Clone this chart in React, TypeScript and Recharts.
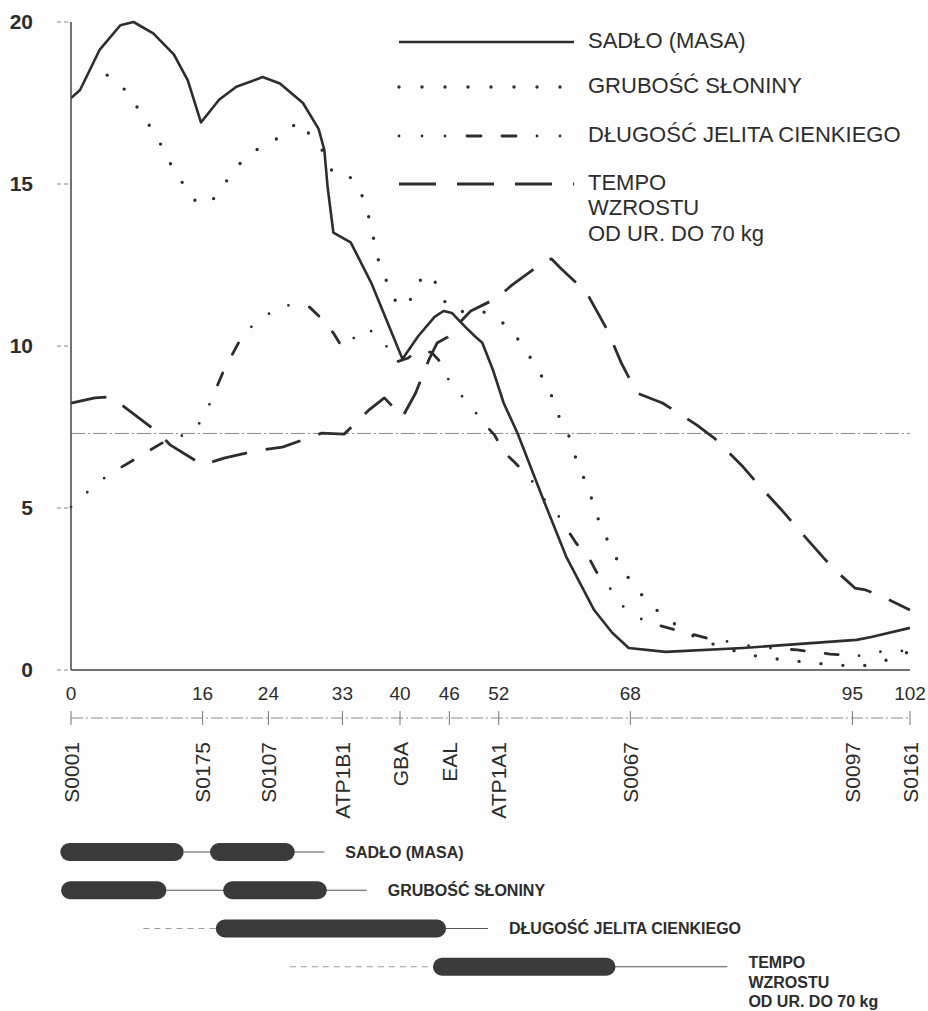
import React from "react";
import {
  LineChart,
  Line,
  XAxis,
  YAxis,
  ReferenceLine,
  Legend,
  BarChart,
  Bar,
  LabelList,
} from "recharts";

const FONT = '"Liberation Sans", Arial, sans-serif';
const INK = "#2d2d2d";

// marker map (cM)
const MARKER_CM = [0, 16, 24, 33, 40, 46, 52, 68, 95, 102];
const MARKER_NAMES = ["S0001", "S0175", "S0107", "ATP1B1", "GBA", "EAL", "ATP1A1", "S0067", "S0097", "S0161"];
const LOD_TICKS = [0, 5, 10, 15, 20];
const THRESHOLD = 7.3;

const TRAIT_NAMES = [
  ["SADŁO (MASA)"],
  ["GRUBOŚĆ SŁONINY"],
  ["DŁUGOŚĆ JELITA CIENKIEGO"],
  ["TEMPO", "WZROSTU", "OD UR. DO 70 kg"],
];

// profiles
const SADLO_CM = [0, 1.1, 3.5, 6.0, 7.6, 10.0, 12.5, 14.2, 15.8, 18.0, 20.1, 23.3, 25.4, 28.2, 30.1, 30.8, 31.2, 31.9, 34.0, 36.5, 40.3, 42.2, 44.2, 45.3, 46.3, 47.9, 49.1, 50.0, 51.3, 52.6, 54.3, 57.3, 60.2, 63.6, 65.8, 67.8, 72.3, 81.7, 95.5, 97.3, 102];
const SADLO_LOD = [17.65, 17.9, 19.15, 19.9, 20.0, 19.65, 19.0, 18.2, 16.9, 17.6, 18.0, 18.3, 18.1, 17.5, 16.7, 16.05, 14.9, 13.5, 13.2, 11.95, 9.6, 10.3, 10.9, 11.08, 11.02, 10.6, 10.3, 10.1, 9.26, 8.24, 7.3, 5.34, 3.5, 1.85, 1.15, 0.68, 0.56, 0.68, 0.93, 1.02, 1.3];

const GRUB_CM = [4.4, 6.6, 8.1, 9.65, 11.1, 12.3, 13.8, 15.4, 17.2, 18.9, 20.6, 22.8, 25.4, 27.7, 30.8, 31.9, 34.1, 35.4, 36.2, 36.8, 37.4, 38.4, 39.5, 41.0, 41.8, 43.3, 44.8, 45.7, 47.8, 49.9, 51.9, 53.9, 55.5, 57.0, 58.3, 59.3, 60.6, 61.4, 62.5, 63.5, 64.3, 65.5, 66.7, 68.3, 70.1, 72.3, 76.4, 80.7, 83.8, 86.9, 90.1, 93.3, 96.1, 98.4, 100.7, 102];
const GRUB_LOD = [18.36, 17.9, 17.35, 16.76, 16.14, 15.52, 14.94, 14.38, 14.5, 15.09, 15.65, 16.1, 16.45, 16.94, 15.96, 15.3, 15.19, 14.63, 13.98, 13.3, 12.62, 11.98, 11.36, 11.23, 11.85, 12.25, 11.82, 11.2, 11.05, 11.08, 10.86, 10.37, 9.78, 9.17, 8.55, 7.84, 7.19, 6.51, 5.83, 5.15, 4.5, 3.86, 3.24, 2.65, 2.1, 1.6, 0.93, 0.59, 0.4, 0.31, 0.22, 0.15, 0.12, 0.22, 0.49, 0.55];

const DLUG_CM = [0, 2.3, 4.5, 7.2, 11.7, 14.5, 16.1, 17.2, 18.6, 21.0, 23.2, 25.8, 29.0, 30.9, 31.9, 33.0, 34.1, 35.95, 37.9, 39.45, 41.0, 41.85, 43.8, 44.7, 45.8, 47.4, 49.05, 50.6, 51.5, 52.6, 53.9, 55.8, 57.3, 59.2, 60.6, 61.4, 63.1, 63.9, 65.6, 67.2, 69.7, 72.6, 75.0, 77.2, 78.9, 81.7, 84.8, 88.3, 92.3, 96.6, 99.5, 102];
const DLUG_LOD = [5.03, 5.56, 6.02, 6.42, 7.1, 7.31, 7.75, 8.43, 9.26, 10.4, 10.86, 11.27, 11.2, 10.74, 10.4, 9.94, 10.19, 10.56, 10.19, 9.5, 9.63, 9.81, 9.81, 9.57, 9.0, 8.49, 7.99, 7.5, 7.25, 6.73, 6.42, 5.93, 5.34, 4.78, 4.23, 3.92, 3.4, 3.02, 2.5, 1.94, 1.51, 1.3, 1.14, 0.99, 0.93, 0.77, 0.68, 0.62, 0.49, 0.43, 0.65, 0.55];

const TEMPO_CM = [0, 2.9, 4.8, 6.8, 10.5, 12.1, 16.0, 18.6, 23.0, 25.7, 30.5, 33.2, 36.2, 38.1, 40.3, 41.9, 43.5, 44.5, 45.8, 47.2, 48.6, 51.8, 53.6, 57.3, 58.4, 59.5, 62.7, 65.2, 66.9, 68.8, 71.9, 76.1, 78.2, 81.7, 83.4, 86.6, 88.3, 91.5, 93.3, 95.3, 96.6, 98.8, 102];
const TEMPO_LOD = [8.24, 8.4, 8.43, 8.06, 7.35, 6.94, 6.33, 6.54, 6.79, 6.88, 7.31, 7.28, 8.02, 8.4, 7.81, 8.55, 9.57, 10.09, 10.28, 10.71, 11.08, 11.48, 11.88, 12.56, 12.69, 12.41, 11.64, 10.49, 9.48, 8.55, 8.24, 7.56, 7.16, 6.27, 5.77, 4.88, 4.38, 3.46, 2.99, 2.53, 2.47, 2.25, 1.85];

// confidence intervals (cM)
const CI_MAIN = [[-1.3, 13.7], [-1.2, 11.6], [17.6, 45.6], [44.0, 66.2]];
const CI_SECOND = [[16.9, 27.2], [18.5, 31.1], null, null];
const CI_TAIL = [[13.7, 30.8], [11.6, 35.95], [17.6, 50.7], [44.0, 79.8]];
const CI_FAINT = [null, null, [8.8, 17.6], [26.6, 44.0]];

const toPoints = (cm: number[], lod: number[]) => cm.map((x, i) => ({ cm: x, lod: lod[i] }));

const SERIES = [
  { key: "sadlo", data: toPoints(SADLO_CM, SADLO_LOD), width: 2.6, dash: undefined as string | undefined, legendDash: undefined as string | undefined },
  { key: "grub", data: toPoints(GRUB_CM, GRUB_LOD), width: 3.4, dash: "0 22", legendDash: "0 23" },
  { key: "dlug", data: toPoints(DLUG_CM, DLUG_LOD), width: 2.8, dash: "0 22 0 22 0 21 13 21 13 21", legendDash: "0 23 0 23 0 22 14 21 14 21" },
  { key: "tempo", data: toPoints(TEMPO_CM, TEMPO_LOD), width: 2.8, dash: "36 19", legendDash: "37 21" },
];

const CI_ROWS = TRAIT_NAMES.map((lines, i) => ({
  trait: lines.join(" "),
  main: CI_MAIN[i],
  second: CI_SECOND[i],
  tail: CI_TAIL[i],
  faint: CI_FAINT[i],
}));

const isDotted = (d?: string) => !!d && d.startsWith("0");

const LegendBox = () => {
  const rowY = [28, 73, 122, 170];
  return (
    <svg width={540} height={236} style={{ display: "block", overflow: "visible" }}>
      {SERIES.map((s, i) => (
        <g key={s.key}>
          <line
            x1={9}
            x2={184}
            y1={rowY[i]}
            y2={rowY[i]}
            stroke={INK}
            strokeWidth={s.width}
            strokeDasharray={s.legendDash}
            strokeLinecap={isDotted(s.legendDash) ? "round" : "butt"}
          />
          {TRAIT_NAMES[i].map((t, j) => (
            <text
              key={t}
              x={198}
              y={rowY[i] - 2 + j * 25.5}
              dy="0.35em"
              fontSize={22}
              fontFamily={FONT}
              fill={INK}
            >
              {t}
            </text>
          ))}
        </g>
      ))}
    </svg>
  );
};

// cM value, marker cross on the map line and the marker name below it
const renderPositionTick = (props: any) => {
  const { x, y, payload } = props;
  const name = MARKER_NAMES[MARKER_CM.indexOf(payload.value)];
  return (
    <g>
      <text x={x} y={y + 23} dy="0.35em" textAnchor="middle" fontSize={19} fontFamily={FONT} fill={INK}>
        {payload.value}
      </text>
      <line x1={x} x2={x} y1={y + 41} y2={y + 55} stroke="#777" strokeWidth={1} />
      <text
        transform={`translate(${x + 7.5},${y + 72}) rotate(-90)`}
        textAnchor="end"
        fontSize={21}
        fontFamily={FONT}
        fill={INK}
      >
        {name}
      </text>
    </g>
  );
};

const SolidTail = (p: any) => {
  if (p.width == null || !p.height) return <g />;
  const cy = p.y + p.height / 2;
  return <line x1={p.x} x2={p.x + p.width} y1={cy} y2={cy} stroke="#555" strokeWidth={1.2} />;
};

const FaintTail = (p: any) => {
  if (p.width == null || !p.height) return <g />;
  const cy = p.y + p.height / 2;
  return <line x1={p.x} x2={p.x + p.width} y1={cy} y2={cy} stroke="#9a9a9a" strokeWidth={1.2} strokeDasharray="6 5" />;
};

const renderCiLabel = (props: any) => {
  const { x, y, width, height, value } = props;
  const idx = CI_ROWS.findIndex((r) => r.trait === value);
  const lines = TRAIT_NAMES[idx] || [String(value)];
  const cy = y + height / 2;
  const top = lines.length > 1 ? cy - 4 : cy;
  return (
    <g>
      {lines.map((t, j) => (
        <text
          key={t}
          x={x + width + 21}
          y={top + j * 19.5}
          dy="0.35em"
          fontSize={16}
          fontWeight={700}
          fontFamily={FONT}
          fill={INK}
        >
          {t}
        </text>
      ))}
    </g>
  );
};

export default function App() {
  return (
    <div style={{ position: "absolute", left: 0, top: 0, width: 928, height: 1011, overflow: "hidden", background: "#fdfdfd", fontFamily: FONT }}>
      <div style={{ position: "absolute", left: 0, top: 0 }}>
        <LineChart width={928} height={830} margin={{ top: 22, right: 18, left: 11, bottom: 0 }}>
          <XAxis
            dataKey="cm"
            type="number"
            domain={[0, 102]}
            ticks={MARKER_CM}
            interval={0}
            height={48}
            tickLine={false}
            tickSize={0}
            tickMargin={0}
            axisLine={{ stroke: "#444", strokeWidth: 1.5 }}
            tick={renderPositionTick}
          />
          <XAxis
            xAxisId="markers"
            type="number"
            domain={[0, 102]}
            height={112}
            tick={false}
            tickLine={false}
            axisLine={{ stroke: "#8a8a8a", strokeDasharray: "12 3 2 3" }}
          />
          <YAxis
            type="number"
            domain={[0, 20]}
            ticks={LOD_TICKS}
            width={60}
            tickSize={14}
            tickMargin={24}
            tickLine={{ stroke: "#888", strokeDasharray: "4 3" }}
            axisLine={{ stroke: "#444", strokeWidth: 1.5 }}
            tick={{ fontSize: 21, fontWeight: 700, fill: INK, fontFamily: FONT }}
          />
          <ReferenceLine y={THRESHOLD} stroke="#8c8c8c" strokeWidth={1} strokeDasharray="14 3 2 3" />
          {SERIES.map((s) => (
            <Line
              key={s.key}
              data={s.data}
              dataKey="lod"
              type="linear"
              stroke={INK}
              strokeWidth={s.width}
              strokeDasharray={s.dash}
              strokeLinecap={isDotted(s.dash) ? "round" : "butt"}
              strokeLinejoin="round"
              dot={false}
              activeDot={false}
              isAnimationActive={false}
            />
          ))}
          <Legend
            layout="horizontal"
            verticalAlign="middle"
            align="center"
            content={LegendBox}
            wrapperStyle={{ position: "absolute", left: 390, top: 14, width: 540, height: 236 }}
          />
        </LineChart>
      </div>
      <div style={{ position: "absolute", left: 0, top: 833 }}>
        <BarChart layout="vertical" width={928} height={178} data={CI_ROWS} margin={{ top: 0, right: 18, bottom: 25, left: 54.55 }}>
          <XAxis type="number" domain={[-2, 102]} hide />
          {["faint", "tail", "main", "second"].map((id) => (
            <YAxis key={id} yAxisId={id} type="category" dataKey="trait" hide />
          ))}
          <Bar yAxisId="faint" dataKey="faint" barSize={2} shape={FaintTail} isAnimationActive={false} />
          <Bar yAxisId="tail" dataKey="tail" barSize={2} shape={SolidTail} isAnimationActive={false}>
            <LabelList dataKey="trait" content={renderCiLabel} />
          </Bar>
          <Bar yAxisId="main" dataKey="main" barSize={18} radius={9} fill="#3a3a3a" isAnimationActive={false} />
          <Bar yAxisId="second" dataKey="second" barSize={18} radius={9} fill="#3a3a3a" isAnimationActive={false} />
        </BarChart>
      </div>
    </div>
  );
}
